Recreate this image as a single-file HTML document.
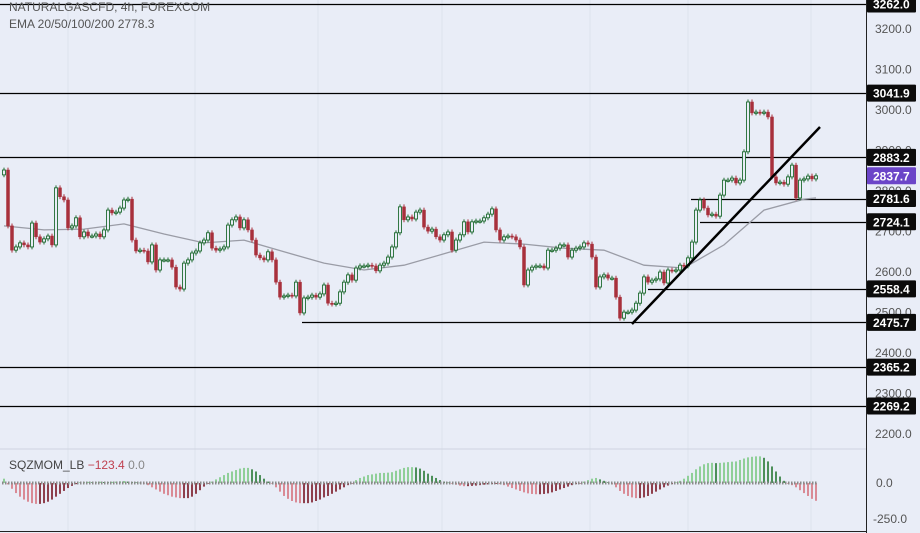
<!DOCTYPE html>
<html><head><meta charset="utf-8"><style>
html,body{margin:0;padding:0;background:#e9edf7;}
svg{display:block;font-family:"Liberation Sans",sans-serif;}
</style></head><body>
<svg id="chart" width="920" height="533" viewBox="0 0 920 533">
<rect x="0" y="0" width="920" height="533" fill="#e9edf7"/>
<g id="grid"></g>
<g id="hlines"></g>
<g id="ema"></g>
<g id="candles"></g>
<g id="hist"></g>
<line x1="632" y1="324" x2="820" y2="127" stroke="#000" stroke-width="2.5"/>
<line x1="0" y1="449" x2="866" y2="449" stroke="#cfd4e0" stroke-width="1"/>
<line x1="866.5" y1="0" x2="866.5" y2="533" stroke="#222" stroke-width="1"/>
<line x1="0" y1="531.5" x2="866" y2="531.5" stroke="#222" stroke-width="1"/>
<g id="axis"></g>
<text x="9" y="11" font-size="12" fill="#555">NATURALGASCFD, 4h, FOREXCOM</text>
<text x="9" y="28" font-size="12" fill="#555">EMA 20/50/100/200  2778.3</text>
<text x="9" y="469" font-size="12" fill="#444">SQZMOM_LB <tspan fill="#c0404f">−123.4</tspan> <tspan fill="#888">0.0</tspan></text>
</svg>
<script>
const closes=[2852,2714,2654,2662,2672,2667,2662,2721,2687,2674,2682,2689,2667,2808,2786,2778,2709,2714,2734,2687,
2699,2689,2689,2694,2687,2704,2753,2746,2748,2758,2778,2780,2679,2652,2654,2652,2625,2667,2605,2630,
2630,2630,2612,2563,2558,2622,2630,2647,2652,2672,2679,2697,2659,2654,2657,2662,2716,2729,2736,2709,
2729,2704,2679,2642,2635,2630,2650,2630,2575,2538,2541,2543,2541,2575,2499,2536,2538,2543,2538,2546,
2568,2523,2521,2523,2551,2575,2593,2580,2610,2615,2615,2617,2615,2603,2617,2622,2637,2662,2697,2761,
2729,2736,2731,2748,2753,2711,2701,2706,2687,2679,2692,2699,2654,2679,2692,2724,2699,2724,2726,2726,
2734,2743,2756,2704,2679,2687,2689,2687,2679,2662,2568,2605,2612,2615,2615,2610,2654,2654,2659,2667,
2667,2637,2654,2659,2662,2672,2669,2637,2563,2588,2593,2585,2585,2538,2486,2501,2501,2506,2523,2548,
2588,2575,2580,2583,2600,2573,2605,2603,2605,2617,2615,2635,2674,2753,2778,2758,2741,2743,2738,2790,
2827,2827,2832,2820,2827,2897,3020,2993,2995,2993,2995,2983,2835,2820,2822,2817,2835,2864,2783,2827,
2830,2837,2830,2837.7];
const firstOpen=2840;
const emaValues=[2714,2704,2706,2719,2694,2672,2679,2650,2622,2605,2617,2645,2674,2669,2659,2654,2617,2610,2667,2753,2780];
const momentum=[30,-10,-40,-70,-95,-115,-130,-140,-145,-145,-140,-130,-115,-95,-75,-55,-35,-20,-8,5,
6,8,5,6,9,7,5,8,10,12,14,10,6,4,2,-2,-15,-30,-45,-60,
-75,-85,-95,-100,-105,-105,-105,-95,-75,-50,-25,-5,10,25,40,55,70,80,90,100,
105,105,95,80,55,30,10,-5,-30,-60,-90,-110,-125,-135,-140,-140,-140,-135,-125,-115,
-100,-90,-75,-60,-45,-30,-15,-3,20,35,45,55,60,65,70,70,72,75,85,95,
105,110,110,108,100,85,65,50,35,20,10,3,-5,-12,-18,-22,-22,-20,-18,-15,
-12,-10,-8,-6,-8,-15,-25,-35,-45,-55,-65,-72,-76,-78,-78,-76,-72,-65,-55,-45,
-35,-25,-15,-8,-2,10,20,30,35,25,15,5,-10,-30,-55,-75,-90,-100,-105,-105,
-100,-90,-75,-60,-45,-30,-18,-8,5,15,30,50,70,95,115,130,138,140,138,140,
142,145,148,150,160,170,178,182,185,185,175,150,115,80,45,15,-5,-15,-30,-50,
-70,-90,-110,-123.4];
const levelPrices=[3262.0,3041.9,2883.2,2781.6,2724.1,2558.4,2475.7,2365.2,2269.2];
const levelStartX=[0,0,0,691,700,648,302,0,0];
const tickLabels=[3200,3100,3000,2900,2800,2700,2600,2500,2400,2300,2200];
const momTicks=[0,-250];
const lastPrice=2837.7;

const NS="http://www.w3.org/2000/svg";
function mk(t,a,p){const e=document.createElementNS(NS,t);for(const k in a)e.setAttribute(k,a[k]);p.appendChild(e);return e;}
const yP=p=>4+(3262-p)*0.4049;
const xI=i=>4+i*4;
const yM=v=>483-v*0.144;

const grid=document.getElementById('grid');
[68,195,318,442,590,688,811].forEach(x=>{
  const l=mk('line',{x1:x,y1:0,x2:x,y2:531,stroke:'#dde2ee','stroke-width':1},grid);
  
  
});

const hl=document.getElementById('hlines');
levelPrices.forEach((p,i)=>{
  const y=Math.round(yP(p))+0.5;
  const l=mk('line',{x1:levelStartX[i],y1:y,x2:866,y2:y,stroke:'#000','stroke-width':1.2},hl);
  
  
});

const ema=document.getElementById('ema');
const pts=emaValues.map((v,k)=>xI(k*10)+','+yP(v).toFixed(1)).join(' ');
const pl=mk('polyline',{points:pts+' 816,'+yP(2783).toFixed(1),fill:'none',stroke:'#9a9ca6','stroke-width':1.3},ema);



const cg=document.getElementById('candles');
closes.forEach((c,i)=>{
  const o=i===0?firstOpen:closes[i-1];
  const up=c>=o;
  const hi=Math.max(o,c)+6, lo=Math.min(o,c)-6;
  const x=xI(i);
  const col=up?'#1f6b30':'#a8303c';
  const w=mk('line',{x1:x,y1:yP(hi),x2:x,y2:yP(lo),stroke:col,'stroke-width':1},cg);
  
  
  const top=yP(Math.max(o,c)), h=Math.max(1.2,yP(Math.min(o,c))-top);
  const b=mk('rect',{x:x-1.5,y:top,width:3,height:h,fill:up?'#e9edf7':col,stroke:col,'stroke-width':up?0.9:0.5},cg);
  
  
});

const hg=document.getElementById('hist');
momentum.forEach((v,i)=>{
  const prev=i===0?0:momentum[i-1];
  let col;
  if(v>=0) col=v>=prev?'#8fcf98':'#4c8f59'; else col=v<prev?'#d98a95':'#8e3f4c';
  const y0=yM(0), y1=yM(v);
  const r=mk('rect',{x:xI(i)-1,y:Math.min(y0,y1),width:2,height:Math.max(0.5,Math.abs(y1-y0)),fill:col},hg);
  
  
});
const zl=mk('line',{x1:2,y1:yM(0),x2:818,y2:yM(0),stroke:'#8a8a8a','stroke-width':3,'stroke-dasharray':'1.5 1.5'},hg);



const ax=document.getElementById('axis');
tickLabels.forEach(t=>{
  const tx=mk('text',{x:875,y:yP(t)+4,'font-size':12,fill:'#555'},ax);
  tx.textContent=t.toFixed(1);
  
  
});
momTicks.forEach(t=>{
  const tx=mk('text',{x:t<0?873:876,y:yM(t)+4,'font-size':12,fill:'#555'},ax);
  tx.textContent=t.toFixed(1);
  
  
});
function badge(p,fill,name){
  const y=yP(p);
  const r=mk('rect',{x:867,y:y-8.5,width:49,height:17,fill:fill,rx:1},ax);
  
  
  const tx=mk('text',{x:873,y:y+4.5,'font-size':12,'font-weight':'bold',fill:'#fff'},ax);
  tx.textContent=p.toFixed(1);
  
  
}
levelPrices.forEach(p=>badge(p,'#0b0b0b','level-price-label'));
badge(lastPrice,'#6b45c8','last-price-label');
</script>
</body></html>
